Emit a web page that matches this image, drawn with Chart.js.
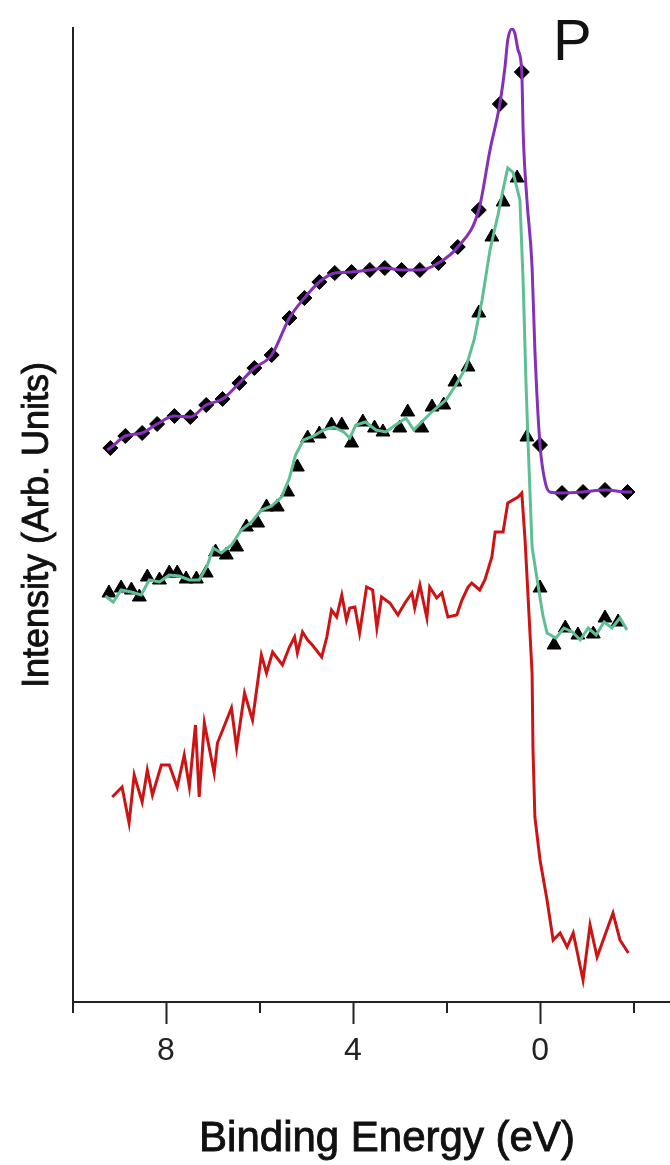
<!DOCTYPE html>
<html>
<head>
<meta charset="utf-8">
<script src="https://cdn.jsdelivr.net/npm/chart.js@4.4.1/dist/chart.umd.min.js"></script>
<style>
  html, body { margin: 0; padding: 0; background: #ffffff; overflow: hidden; width: 670px; height: 1165px; }
  #wrap { width: 670px; height: 1165px; overflow: hidden; }
  canvas { display: block; }
</style>
</head>
<body>
<div id="wrap"><canvas id="c" width="670" height="1165" style="width:670px;height:1165px"></canvas></div>
<script>
// ---- axis ticks and texts ----
const xTickValues = [10, 8, 6, 4, 2, 0, -2];
const xTickLabels = { 8: '8', 4: '4', 0: '0' };
const xMinorTicks = [10, 6, 2, -2];
const xTitle = 'Binding Energy (eV)';
const yTitle = 'Intensity (Arb. Units)';
const panelLabel = 'P';

// ---- purple smooth curve (binding energy eV, intensity arb.) ----
const purpleE = [9.26, 9.19, 8.87, 8.51, 8.19, 7.82, 7.48, 7.14, 6.79, 6.43, 6.11, 5.74, 5.36, 5.04, 4.72, 4.39, 4.03, 3.64, 3.32, 2.96, 2.57, 2.17, 1.76, 1.31, 1.07, 0.86, 0.75, 0.69, 0.60, 0.54, 0.47, 0.39, 0.36, 0.28, 0.17, 0.11, 0.00, -0.11, -0.21, -0.47, -0.92, -1.39, -1.87, -1.97];
const purpleI = [55.2, 55.4, 56.6, 56.9, 57.8, 58.6, 58.5, 59.7, 60.3, 61.9, 63.4, 64.7, 68.4, 70.4, 72.0, 72.9, 73.0, 73.2, 73.4, 73.2, 73.2, 73.9, 75.5, 79.2, 85.2, 89.8, 93.5, 96.2, 97.3, 96.9, 95.2, 93.0, 86.9, 80.2, 73.5, 65.2, 55.7, 52.0, 51.0, 50.9, 51.0, 51.2, 51.0, 51.0];

// ---- diamond markers ----
const diamondE = [9.19, 8.87, 8.51, 8.19, 7.82, 7.48, 7.14, 6.79, 6.43, 6.11, 5.74, 5.36, 5.04, 4.72, 4.39, 4.03, 3.64, 3.32, 2.96, 2.57, 2.17, 1.76, 1.31, 0.86, 0.39, 0.00, -0.47, -0.92, -1.39, -1.87];
const diamondI = [55.4, 56.6, 56.9, 57.8, 58.6, 58.5, 59.7, 60.3, 61.9, 63.4, 64.7, 68.4, 70.4, 72.0, 72.9, 73.0, 73.2, 73.4, 73.2, 73.2, 73.9, 75.5, 79.2, 89.8, 93.0, 55.7, 50.9, 51.0, 51.2, 51.0];

// ---- green curve ----
const greenE = [9.30, 9.13, 8.96, 8.74, 8.53, 8.36, 8.14, 7.93, 7.72, 7.50, 7.29, 7.12, 6.99, 6.82, 6.60, 6.39, 6.17, 5.96, 5.74, 5.53, 5.36, 5.23, 5.06, 4.84, 4.63, 4.41, 4.20, 4.07, 3.94, 3.73, 3.51, 3.30, 3.09, 2.87, 2.70, 2.49, 2.27, 2.01, 1.80, 1.59, 1.41, 1.24, 1.07, 0.90, 0.77, 0.69, 0.58, 0.43, 0.36, 0.30, 0.26, 0.17, 0.06, -0.06, -0.15, -0.34, -0.51, -0.69, -0.86, -1.03, -1.20, -1.37, -1.54, -1.71, -1.86];
const greenI = [40.6, 40.0, 41.2, 41.0, 40.7, 42.2, 42.0, 42.7, 42.6, 42.2, 42.2, 43.6, 45.4, 44.9, 45.7, 47.2, 48.0, 49.2, 49.6, 50.5, 52.4, 54.7, 56.2, 56.6, 57.2, 57.5, 57.0, 56.4, 57.7, 58.0, 57.2, 57.0, 57.7, 58.4, 57.2, 58.2, 59.2, 60.2, 61.7, 63.4, 66.2, 70.2, 75.2, 78.7, 81.7, 83.4, 83.0, 80.2, 71.9, 61.9, 56.5, 45.5, 42.2, 38.7, 36.9, 36.4, 37.4, 37.0, 36.2, 37.4, 36.7, 38.0, 37.4, 38.4, 37.2];

// ---- triangle markers ----
const triE = [9.22, 8.96, 8.74, 8.57, 8.40, 8.14, 7.93, 7.76, 7.57, 7.35, 7.14, 6.94, 6.71, 6.49, 6.28, 6.04, 5.85, 5.62, 5.40, 5.19, 4.97, 4.72, 4.46, 4.24, 4.03, 3.79, 3.54, 3.36, 3.00, 2.83, 2.53, 2.31, 2.06, 1.82, 1.54, 1.31, 1.03, 0.79, 0.49, 0.28, 0.00, -0.30, -0.54, -0.81, -1.14, -1.39, -1.67];
const triI = [40.9, 41.4, 41.2, 40.5, 42.5, 42.2, 42.9, 42.9, 42.3, 42.3, 42.9, 45.0, 44.7, 45.5, 47.5, 47.9, 49.5, 49.5, 51.0, 53.5, 56.4, 56.8, 57.7, 57.7, 55.9, 58.0, 57.4, 57.0, 57.4, 59.0, 57.4, 59.5, 59.7, 62.0, 63.5, 68.9, 76.5, 80.0, 82.4, 56.5, 41.4, 35.7, 37.4, 36.7, 36.8, 38.4, 38.0];

// ---- red noisy curve ----
const redE = [9.15, 8.94, 8.79, 8.68, 8.51, 8.40, 8.29, 8.10, 7.93, 7.76, 7.61, 7.50, 7.37, 7.29, 7.18, 6.97, 6.90, 6.60, 6.49, 6.32, 6.15, 5.96, 5.85, 5.72, 5.51, 5.36, 5.25, 5.19, 5.08, 4.97, 4.87, 4.67, 4.56, 4.46, 4.35, 4.24, 4.14, 4.07, 3.96, 3.86, 3.71, 3.58, 3.49, 3.39, 3.21, 3.04, 2.89, 2.74, 2.68, 2.57, 2.42, 2.36, 2.21, 2.10, 1.97, 1.78, 1.67, 1.54, 1.46, 1.29, 1.18, 1.03, 0.96, 0.79, 0.69, 0.47, 0.39, 0.32, 0.26, 0.17, 0.15, 0.11, 0.00, -0.15, -0.28, -0.43, -0.58, -0.71, -0.92, -1.07, -1.22, -1.56, -1.71, -1.89];
const redI = [20.5, 21.5, 17.9, 22.7, 20.0, 23.2, 20.7, 23.7, 23.7, 21.5, 24.7, 21.5, 27.7, 20.5, 27.9, 22.9, 25.9, 29.4, 25.4, 30.9, 28.2, 34.7, 32.9, 35.0, 33.7, 35.5, 36.5, 34.9, 37.0, 36.2, 35.7, 34.5, 36.5, 39.2, 38.5, 40.7, 38.2, 39.4, 39.5, 36.9, 41.5, 41.2, 37.4, 40.5, 39.9, 38.7, 39.9, 40.9, 39.4, 41.7, 38.4, 41.5, 40.4, 40.9, 38.5, 38.7, 40.2, 41.5, 41.9, 41.2, 42.2, 44.5, 47.0, 47.0, 49.9, 50.5, 50.9, 46.2, 40.9, 32.9, 25.2, 18.5, 14.2, 10.2, 6.2, 6.9, 5.5, 6.9, 2.2, 7.7, 4.5, 8.9, 6.2, 4.9];

const pts = (xs, ys) => xs.map((v, i) => ({ x: v, y: ys[i] }));
const FONT = '"Liberation Sans", Arial, sans-serif';

function heavyText(ctx, text, x, y) {
  ctx.fillText(text, x, y);
  ctx.strokeText(text, x, y);
}

const extras = {
  id: 'extras',
  afterDraw(chart) {
    const { ctx, scales: { x } } = chart;
    ctx.save();
    // minor ticks
    ctx.strokeStyle = '#222';
    ctx.lineWidth = 2;
    xMinorTicks.forEach(v => {
      const px = Math.round(x.getPixelForValue(v));
      ctx.beginPath();
      ctx.moveTo(px, x.top);
      ctx.lineTo(px, x.top + 11);
      ctx.stroke();
    });
    ctx.fillStyle = '#111';
    ctx.strokeStyle = '#111';
    // panel label
    ctx.font = '58px ' + FONT;
    ctx.textBaseline = 'alphabetic';
    ctx.textAlign = 'left';
    ctx.fillText(panelLabel, 553, 60);
    // x title
    ctx.lineWidth = 0.9;
    ctx.font = '42px ' + FONT;
    ctx.textAlign = 'center';
    heavyText(ctx, xTitle, 387, 1151);
    // y title (rotated)
    ctx.translate(48, 525);
    ctx.rotate(-Math.PI / 2);
    ctx.font = '36px ' + FONT;
    heavyText(ctx, yTitle, 0, 0);
    ctx.restore();
  }
};

new Chart(document.getElementById('c'), {
  type: 'line',
  data: {
    datasets: [
      { data: pts(redE, redI), borderColor: '#cc1414', borderWidth: 3, pointRadius: 0, tension: 0, fill: false },
      { data: pts(greenE, greenI), borderColor: '#5fbf94', borderWidth: 3, pointRadius: 0, tension: 0, fill: false },
      { data: pts(triE, triI), showLine: false, pointStyle: 'triangle', pointRadius: 8, backgroundColor: '#000', borderColor: '#000', borderWidth: 1 },
      { data: pts(purpleE, purpleI), borderColor: '#8430b8', borderWidth: 3, pointRadius: 0, cubicInterpolationMode: 'monotone', fill: false },
      { data: pts(diamondE, diamondI), showLine: false, pointStyle: 'rectRot', pointRadius: 7.5, backgroundColor: '#000', borderColor: '#000', borderWidth: 1 }
    ]
  },
  options: {
    responsive: false,
    animation: false,
    events: [],
    devicePixelRatio: 1,
    layout: { autoPadding: false, padding: { top: 28, right: 0, bottom: 0, left: 0 } },
    plugins: { legend: { display: false }, tooltip: { enabled: false }, title: { display: false } },
    scales: {
      x: {
        type: 'linear',
        reverse: true,
        min: -2.78,
        max: 10,
        afterBuildTicks: s => { s.ticks = xTickValues.map(v => ({ value: v })); },
        afterFit: s => { s.height = 163; s.paddingLeft = 0; s.paddingRight = 0; },
        ticks: {
          autoSkip: false,
          maxRotation: 0,
          padding: 8,
          color: '#222',
          font: { family: FONT, size: 32 },
          callback: v => xTickLabels[v] !== undefined ? xTickLabels[v] : ''
        },
        grid: {
          drawOnChartArea: false,
          drawTicks: true,
          tickLength: 22,
          tickWidth: 2,
          tickColor: c => (c.tick && xTickLabels[c.tick.value] !== undefined) ? '#222' : 'rgba(0,0,0,0)'
        },
        border: { display: true, color: '#222', width: 2 },
        title: { display: false }
      },
      y: {
        min: 0,
        max: 97.4,
        afterFit: s => { s.width = 72.5; s.paddingTop = 0; s.paddingBottom = 0; },
        ticks: { display: false },
        grid: { display: true, drawOnChartArea: false, drawTicks: false },
        border: { display: true, color: '#222', width: 2 },
        title: { display: false }
      }
    }
  },
  plugins: [extras]
});
</script>
</body>
</html>
